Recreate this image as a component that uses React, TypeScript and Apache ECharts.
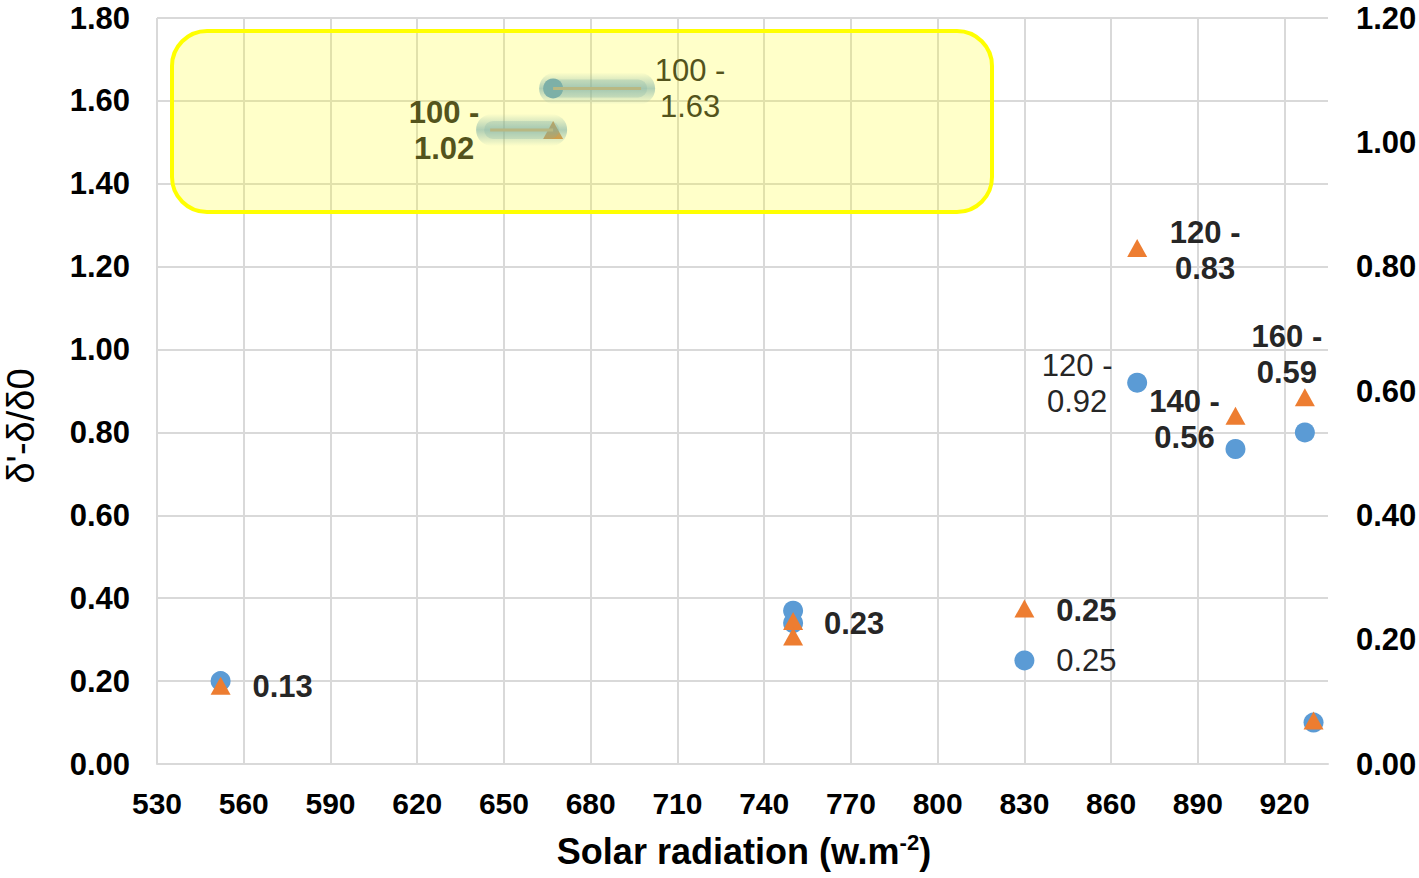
import React, { useEffect, useRef } from "react";
import * as echarts from "echarts";

// ---- data ----
const xMin = 530;
const xMax = 935;
const xStep = 30;
const yLeftMax = 1.8;
const yRightMax = 1.2;
const yStep = 0.2;

// blue circles (left axis)
const circleX = [552, 750, 750, 667, 830, 869, 903, 927, 930];
const circleY = [0.2, 0.37, 0.34, 1.63, 0.25, 0.92, 0.76, 0.8, 0.1];
const circleLabels = ["", "", "", "100 -\n1.63", "0.25", "120 -\n0.92", "", "", ""];

// orange triangles (right axis)
const triX = [552, 750, 750, 667, 830, 869, 903, 927, 930];
const triY = [0.126, 0.23, 0.205, 1.02, 0.25, 0.83, 0.56, 0.59, 0.07];
const triLabels = ["0.13", "0.23", "", "100 -\n1.02", "0.25", "120 -\n0.83", "140 -\n0.56", "160 -\n0.59", ""];

// points in the highlighted box that carry a leader line
const circleLeaderIdx = 3;
const triLeaderIdx = 3;

const xTitle = "Solar radiation (w.m";
const xTitleSup = "-2";
const yTitle = "δ'-δ/δ0";

const FONT = '"Liberation Sans", Arial, Helvetica, sans-serif';

export default function App() {
  const ref = useRef<HTMLDivElement>(null);

  useEffect(() => {
    if (!ref.current) return;
    const chart = echarts.init(ref.current, undefined, { renderer: "svg" });

    // label offsets (layout styling only)
    const circleOffsets: Record<number, number[]> = { 3: [137, 0], 4: [62, 0], 5: [-60, 1] };
    const triOffsets: Record<number, number[]> = {
      0: [62, 1],
      1: [61, 2],
      3: [-109, 1],
      4: [62, 2],
      5: [68, 2],
      6: [-51, 4],
      7: [-18, -43],
    };

    const build = (
      xs: number[],
      ys: number[],
      labels: string[],
      offsets: Record<number, number[]>,
      bold: boolean
    ) =>
      xs.map((x, i) => {
        const item: any = { value: [x, ys[i]] };
        if (labels[i]) {
          item.label = {
            show: true,
            formatter: labels[i],
            offset: offsets[i] || [0, 0],
            fontWeight: bold ? "bold" : "normal",
          };
        } else {
          item.label = { show: false };
        }
        return item;
      });

    const labelBase = {
      show: true,
      position: "inside",
      fontSize: 31,
      lineHeight: 36,
      fontFamily: FONT,
      color: "#262626",
      align: "center",
      verticalAlign: "middle",
      textBorderWidth: 0,
      textBorderColor: "transparent",
    };

    const glowFill = () =>
      new echarts.graphic.LinearGradient(0, 0, 0, 1, [
        { offset: 0, color: "rgba(91,155,213,0)" },
        { offset: 0.5, color: "rgba(91,155,213,0.6)" },
        { offset: 1, color: "rgba(91,155,213,0)" },
      ]);

    // leader line with a soft glow; len > 0 goes right, len < 0 goes left
    const leaderSeries = (yAxisIndex: number, x: number, y: number, len: number) => ({
      type: "custom",
      coordinateSystem: "cartesian2d",
      xAxisIndex: 0,
      yAxisIndex,
      silent: true,
      z: 4,
      data: [[x, y]],
      renderItem: (_params: any, api: any) => {
        const p = api.coord([api.value(0), api.value(1)]);
        const x1 = Math.min(p[0], p[0] + len);
        const x2 = Math.max(p[0], p[0] + len);
        return {
          type: "group",
          children: [
            {
              type: "rect",
              shape: { x: x1 - 14, y: p[1] - 16, width: x2 - x1 + 28, height: 32, r: 16 },
              style: { fill: glowFill() },
            },
            {
              type: "rect",
              shape: { x: x1 - 6, y: p[1] - 9, width: x2 - x1 + 12, height: 18, r: 9 },
              style: { fill: "rgba(91,155,213,0.25)" },
            },
            {
              type: "line",
              shape: { x1: p[0], y1: p[1], x2: p[0] + len, y2: p[1] },
              style: { stroke: "#A6A6A6", lineWidth: 3 },
            },
          ],
        };
      },
    });

    chart.setOption({
      animation: false,
      backgroundColor: "#ffffff",
      grid: {
        left: 157,
        right: 91,
        top: 18,
        bottom: 114,
        containLabel: false,
        outerBoundsMode: "none",
      },
      xAxis: {
        type: "value",
        min: xMin,
        max: xMax,
        interval: xStep,
        axisLine: { show: true, lineStyle: { color: "#D9D9D9", width: 2 } },
        axisTick: { show: false },
        axisLabel: {
          fontSize: 30,
          fontWeight: "bold",
          fontFamily: FONT,
          color: "#000",
          margin: 24,
          showMaxLabel: false,
          formatter: (v: number) => String(v),
        },
        splitLine: {
          show: true,
          showMaxLine: false,
          lineStyle: { color: "#D9D9D9", width: 2 },
        },
      },
      yAxis: [
        {
          type: "value",
          min: 0,
          max: yLeftMax,
          interval: yStep,
          axisLine: { show: false },
          axisTick: { show: false },
          axisLabel: {
            fontSize: 31,
            fontWeight: "bold",
            fontFamily: FONT,
            color: "#000",
            margin: 27,
            formatter: (v: number) => v.toFixed(2),
          },
          splitLine: { show: true, lineStyle: { color: "#D9D9D9", width: 2 } },
        },
        {
          type: "value",
          min: 0,
          max: yRightMax,
          interval: yStep,
          position: "right",
          axisLine: { show: false },
          axisTick: { show: false },
          axisLabel: {
            fontSize: 31,
            fontWeight: "bold",
            fontFamily: FONT,
            color: "#000",
            margin: 28,
            formatter: (v: number) => v.toFixed(2),
          },
          splitLine: { show: false },
        },
      ],
      series: [
        {
          type: "scatter",
          yAxisIndex: 0,
          symbol: "circle",
          symbolSize: 20,
          itemStyle: { color: "#5B9BD5", opacity: 1 },
          label: { ...labelBase },
          data: build(circleX, circleY, circleLabels, circleOffsets, false),
          z: 2,
        },
        {
          type: "scatter",
          yAxisIndex: 1,
          symbol: "triangle",
          symbolSize: [20, 18],
          itemStyle: { color: "#ED7D31", opacity: 1 },
          label: { ...labelBase },
          data: build(triX, triY, triLabels, triOffsets, true),
          z: 3,
        },
        leaderSeries(0, circleX[circleLeaderIdx], circleY[circleLeaderIdx], 88),
        leaderSeries(1, triX[triLeaderIdx], triY[triLeaderIdx], -63),
      ],
      graphic: [
        {
          type: "rect",
          z: 100,
          silent: true,
          shape: { x: 172, y: 31, width: 820, height: 181, r: 35 },
          style: { fill: "rgba(255,255,0,0.21)", stroke: "#FFFF00", lineWidth: 4 },
        },
        {
          type: "text",
          x: 21,
          y: 426,
          rotation: Math.PI / 2,
          style: {
            text: yTitle,
            fontSize: 38,
            fontFamily: FONT,
            fill: "#000",
            align: "center",
            verticalAlign: "middle",
          },
        },
        {
          type: "text",
          x: 744,
          y: 851,
          style: {
            text: "{a|" + xTitle + "}{s|" + xTitleSup + "}{a|)}",
            align: "center",
            verticalAlign: "middle",
            rich: {
              a: {
                fontSize: 36,
                fontWeight: "bold",
                fontFamily: FONT,
                fill: "#000",
                lineHeight: 40,
              },
              s: {
                fontSize: 22,
                fontWeight: "bold",
                fontFamily: FONT,
                fill: "#000",
                lineHeight: 24,
                verticalAlign: "top",
              },
            },
          },
        },
      ],
    });

    return () => {
      chart.dispose();
    };
  }, []);

  return (
    <div
      ref={ref}
      style={{
        position: "fixed",
        left: 0,
        top: 0,
        width: 1419,
        height: 878,
        background: "#fff",
      }}
    />
  );
}
